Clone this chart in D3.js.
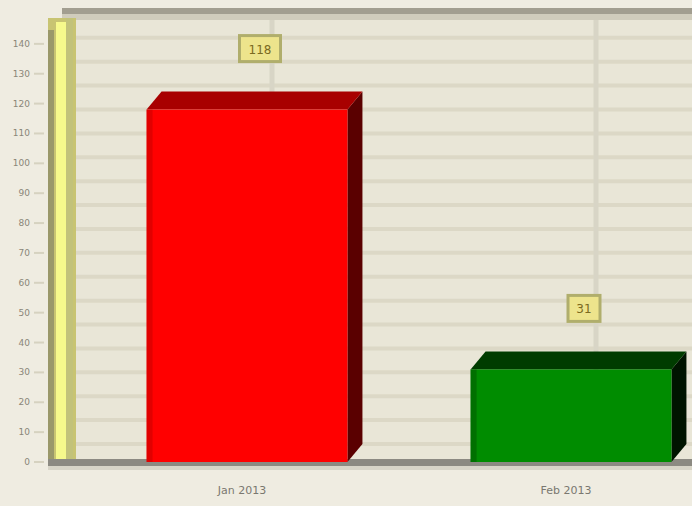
<!DOCTYPE html>
<html><head><meta charset="utf-8">
<script src="https://cdn.jsdelivr.net/npm/d3@7"></script>
<style>body{margin:0;background:#efece1;}svg{display:block;}</style>
</head><body>
<svg id="c" width="692" height="506"></svg>
<script>
const categories = ["Jan 2013", "Feb 2013"];
const values = [118, 31];
const yTicks = [0,10,20,30,40,50,60,70,80,90,100,110,120,130,140];
const barColors = [
  {front:"#ff0000", top:"#a80000", side:"#5a0000"},
  {front:"#008c00", top:"#003c00", side:"#001400"}
];

const svg = d3.select("#c");
const W = 692, H = 506;
const dx = 15, dy = -18; // 3D depth
const y0 = 462;
const y = d3.scaleLinear().domain([0,150]).range([y0, 14]);
const x = d3.scaleBand().domain(categories).range([85, 733]).paddingInner(0.38).paddingOuter(0.19);

svg.append("rect").attr("width",W).attr("height",H).attr("fill","#efece1");

// back wall
svg.append("rect").attr("x",75).attr("y",12).attr("width",W-75).attr("height",y0-12)
  .attr("fill","#e9e6d7");
// horizontal gridlines on back wall
const grid = d3.range(0,151,8);
svg.append("g").selectAll("line").data(grid).join("line")
  .attr("x1",75).attr("x2",W)
  .attr("y1",d=>y(d)+dy).attr("y2",d=>y(d)+dy)
  .attr("stroke","#dcd8c6").attr("stroke-width",4);
// vertical category gridlines
svg.append("g").selectAll("line").data(categories).join("line")
  .attr("x1",d=>x(d)+x.bandwidth()/2+dx+10).attr("x2",d=>x(d)+x.bandwidth()/2+dx+10)
  .attr("y1",12).attr("y2",y0)
  .attr("stroke","#d8d5c6").attr("stroke-width",5);
// top border
svg.append("rect").attr("x",62).attr("y",8).attr("width",W-62).attr("height",6).attr("fill","#a29e90");
svg.append("rect").attr("x",62).attr("y",14).attr("width",W-62).attr("height",6).attr("fill","#d0ccbc");

// left yellow wall
const wall = svg.append("g");
wall.append("rect").attr("x",48).attr("y",18).attr("width",28).attr("height",y0-18).attr("fill","#c8c472");
wall.append("rect").attr("x",48).attr("y",30).attr("width",6).attr("height",y0-30).attr("fill","#9a986a");
wall.append("rect").attr("x",56).attr("y",22).attr("width",10).attr("height",y0-22).attr("fill","#f6f98c");
wall.append("rect").attr("x",66).attr("y",18).attr("width",7).attr("height",y0-18).attr("fill","#c2c27a");

// y axis labels
svg.append("g").selectAll("text").data(yTicks).join("text")
  .attr("x",30).attr("y",d=>y(d)+3)
  .attr("text-anchor","end").attr("font-family","DejaVu Sans, sans-serif")
  .attr("font-size",9).attr("fill","#8a8678").text(d=>d);
svg.append("g").selectAll("line").data(yTicks).join("line")
  .attr("x1",34).attr("x2",44).attr("y1",d=>y(d)).attr("y2",d=>y(d))
  .attr("stroke","#d6d2c0").attr("stroke-width",2);

// floor line
svg.append("rect").attr("x",48).attr("y",y0-3).attr("width",W-48).attr("height",7).attr("fill","#8c8a82");
svg.append("rect").attr("x",48).attr("y",y0+4).attr("width",W-48).attr("height",4).attr("fill","#d8d5c8");

// bars
const bars = svg.append("g").selectAll("g").data(categories).join("g");
bars.each(function(c,i){
  const g = d3.select(this);
  const x1 = x(c), w = x.bandwidth(), yt = y(values[i]);
  const col = barColors[i];
  g.append("polygon").attr("points",
    `${x1+w},${yt} ${x1+w+dx},${yt+dy} ${x1+w+dx},${y0+dy} ${x1+w},${y0}`).attr("fill",col.side);
  g.append("polygon").attr("points",
    `${x1},${yt} ${x1+dx},${yt+dy} ${x1+w+dx},${yt+dy} ${x1+w},${yt}`).attr("fill",col.top);
  g.append("rect").attr("x",x1).attr("y",yt).attr("width",w).attr("height",y0-yt).attr("fill",col.front);
  g.append("rect").attr("x",x1).attr("y",yt).attr("width",6).attr("height",y0-yt).attr("fill",col.top).attr("opacity",0.35);
});

// value labels
bars.each(function(c,i){
  const g = d3.select(this);
  const cx = x(c)+x.bandwidth()/2+dx-2;
  const yt = y(values[i])+dy;
  const txt = String(values[i]);
  const bw = txt.length*9+14;
  g.append("rect").attr("x",cx-bw/2).attr("y",yt-56).attr("width",bw).attr("height",26)
    .attr("fill","#ede48c").attr("stroke","#b0ae6c").attr("stroke-width",3);
  g.append("text").attr("x",cx).attr("y",yt-38).attr("text-anchor","middle")
    .attr("font-family","DejaVu Sans, sans-serif").attr("font-size",12).attr("fill","#7a6a20").text(txt);
});

// x axis labels
svg.append("g").selectAll("text").data(categories).join("text")
  .attr("x",d=>x(d)+x.bandwidth()/2-5).attr("y",494)
  .attr("text-anchor","middle").attr("font-family","DejaVu Sans, sans-serif")
  .attr("font-size",11).attr("fill","#7a7870").text(d=>d);
</script>
</body></html>
